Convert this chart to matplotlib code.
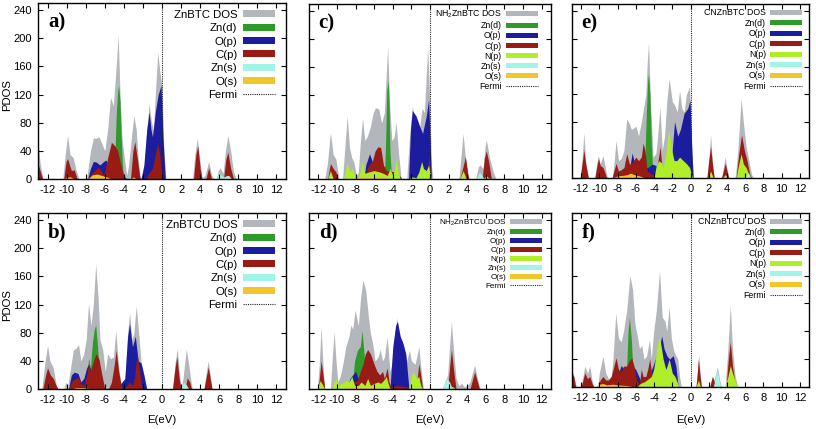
import matplotlib
matplotlib.use("Agg")
import matplotlib.pyplot as plt
from matplotlib.patches import Patch
from matplotlib.lines import Line2D

plt.rcParams['font.family'] = ['Liberation Sans', 'DejaVu Sans']
plt.rcParams['mathtext.default'] = 'regular'
plt.rcParams['axes.unicode_minus'] = False

# ---- data: (energy eV, PDOS) pairs ----
# a) ZnBTC
a_dos = [(-13.0, 55), (-12.8, 25), (-12.5, 0),
         (-10.4, 0), (-10.15, 35), (-9.9, 62), (-9.65, 35), (-9.3, 30), (-9.0, 12), (-8.7, 0),
         (-7.9, 0), (-7.5, 40), (-7.2, 58), (-6.9, 58), (-6.6, 60), (-6.3, 50), (-6.0, 40), (-5.7, 70),
         (-5.4, 116), (-5.1, 104), (-4.75, 170), (-4.6, 205), (-4.4, 120), (-4.2, 60), (-4.0, 35),
         (-3.7, 5), (-3.5, 20), (-3.2, 60), (-2.95, 90), (-2.7, 70), (-2.5, 30), (-2.3, 5), (-2.1, 0),
         (-1.9, 10), (-1.6, 70), (-1.35, 107), (-1.1, 80), (-0.9, 70), (-0.7, 120), (-0.45, 180),
         (-0.2, 150), (0.0, 130), (0.2, 40), (0.4, 0),
         (3.2, 0), (3.45, 35), (3.7, 58), (3.95, 30), (4.2, 2), (4.5, 5), (4.9, 25), (5.2, 5), (5.5, 0),
         (5.7, 0), (5.9, 12), (6.1, 16), (6.4, 8), (6.65, 40), (6.9, 62), (7.2, 40), (7.5, 10), (7.8, 0)]
a_znd = [(-5.2, 0), (-4.95, 30), (-4.8, 90), (-4.65, 125), (-4.55, 133), (-4.4, 110), (-4.25, 50),
         (-4.1, 10), (-3.95, 0)]
a_op = [(-7.8, 0), (-7.5, 15), (-7.2, 25), (-6.9, 24), (-6.5, 20), (-6.2, 24), (-5.9, 27), (-5.6, 20),
        (-5.0, 10), (-4.3, 8), (-4.0, 5), (-3.7, 0),
        (-2.2, 0), (-1.9, 20), (-1.6, 70), (-1.35, 95), (-1.15, 70), (-1.0, 60), (-0.7, 95), (-0.4, 120),
        (-0.1, 133), (0.1, 60), (0.35, 0)]
a_cp = [(-13.0, 22), (-12.7, 8), (-12.5, 0),
        (-10.3, 0), (-10.05, 25), (-9.9, 29), (-9.7, 20), (-9.5, 12), (-9.2, 13), (-8.9, 0),
        (-7.8, 0), (-7.2, 10), (-6.7, 17), (-6.4, 12), (-6.1, 5), (-5.7, 30), (-5.3, 52), (-5.0, 48),
        (-4.7, 42), (-4.3, 20), (-3.9, 0),
        (-3.3, 0), (-3.05, 40), (-2.85, 53), (-2.6, 30), (-2.3, 0),
        (-1.7, 0), (-1.4, 8), (-1.0, 15), (-0.7, 35), (-0.45, 52), (-0.2, 30), (0.0, 0),
        (3.3, 0), (3.55, 35), (3.75, 47), (4.0, 15), (4.2, 0),
        (4.6, 0), (4.9, 16), (5.2, 0),
        (6.45, 0), (6.7, 28), (6.9, 38), (7.2, 15), (7.5, 0)]
a_zns = [(5.7, 0), (5.95, 10), (6.2, 5), (6.5, 3), (6.8, 5), (7.0, 5), (7.3, 0)]
a_os = [(-10.3, 0), (-10.0, 3), (-9.6, 3), (-9.2, 0), (-7.8, 0), (-7.3, 6), (-6.8, 7), (-6.3, 5),
        (-5.8, 3), (-5.3, 0), (-3.3, 0), (-3.0, 3), (-2.7, 0)]

# b) ZnBTCU
b_dos = [(-12.6, 0), (-12.3, 35), (-12.0, 62), (-11.75, 40), (-11.4, 30), (-11.2, 15), (-11.0, 0),
         (-10.3, 0), (-10.1, 10), (-9.9, 3), (-9.7, 20), (-9.3, 55), (-9.0, 58), (-8.75, 63), (-8.5, 40),
         (-8.2, 50), (-7.95, 70), (-7.7, 122), (-7.45, 90), (-7.2, 120), (-6.95, 178), (-6.7, 130),
         (-6.5, 70), (-6.2, 55), (-5.95, 25), (-5.7, 50), (-5.4, 43), (-5.1, 45), (-4.85, 83), (-4.6, 40),
         (-4.3, 5), (-4.1, 0), (-3.9, 10), (-3.6, 80), (-3.4, 108), (-3.15, 70), (-2.95, 80), (-2.7, 118),
         (-2.45, 80), (-2.2, 40), (-1.9, 20), (-1.6, 0),
         (1.1, 0), (1.35, 35), (1.6, 57), (1.85, 20), (2.0, 0), (2.2, 15), (2.55, 57), (2.8, 35), (3.1, 5),
         (3.2, 0), (4.4, 0), (4.65, 25), (4.85, 40), (5.05, 20), (5.25, 0)]
b_znd = [(-8.0, 0), (-7.7, 44), (-7.5, 30), (-7.3, 65), (-7.1, 85), (-6.95, 91), (-6.75, 60),
         (-6.5, 0)]
b_op = [(-9.8, 0), (-9.5, 20), (-9.2, 24), (-8.8, 22), (-8.5, 10), (-8.2, 15), (-7.9, 30), (-7.7, 35),
        (-7.4, 25), (-7.0, 20), (-6.5, 10), (-6.0, 0),
        (-5.7, 0), (-5.2, 5), (-4.6, 5), (-4.3, 8), (-3.9, 15), (-3.6, 75), (-3.4, 93), (-3.1, 60),
        (-2.8, 75), (-2.5, 40), (-2.2, 37), (-1.9, 20), (-1.6, 0)]
b_cp = [(-12.5, 0), (-12.2, 20), (-12.0, 30), (-11.7, 20), (-11.4, 15), (-11.1, 5), (-10.9, 0),
        (-9.8, 0), (-9.4, 12), (-8.8, 17), (-8.5, 8), (-8.2, 5), (-7.9, 20), (-7.7, 35), (-7.5, 25),
        (-7.2, 40), (-6.9, 50), (-6.6, 42), (-6.3, 20), (-6.0, 0),
        (-5.6, 0), (-5.3, 10), (-5.0, 35), (-4.8, 55), (-4.55, 25), (-4.2, 0),
        (-4.0, 0), (-3.7, 5), (-3.4, 10), (-3.1, 5), (-2.9, 15), (-2.6, 50), (-2.3, 20), (-2.1, 0),
        (1.1, 0), (1.35, 28), (1.55, 46), (1.8, 15), (2.0, 0),
        (2.4, 0), (2.65, 16), (2.9, 10), (3.1, 0),
        (4.4, 0), (4.65, 18), (4.85, 31), (5.05, 15), (5.25, 0)]
b_zns = [(1.9, 0), (2.3, 10), (2.6, 5), (2.8, 0)]
b_os = [(-9.5, 0), (-9.0, 2), (-8.0, 2), (-7.5, 0)]

# c) NH2ZnBTC
c_dos = [(-11.3, 0), (-11.0, 25), (-10.7, 67), (-10.4, 35), (-10.1, 28), (-9.8, 0),
         (-9.4, 0), (-9.15, 45), (-8.9, 90), (-8.65, 45), (-8.4, 30), (-8.2, 25), (-7.9, 5), (-7.7, 10),
         (-7.5, 50), (-7.25, 87), (-7.0, 55), (-6.7, 62), (-6.4, 75), (-6.1, 95), (-5.85, 102), (-5.5, 100),
         (-5.2, 80), (-4.9, 95), (-4.7, 150), (-4.55, 189), (-4.35, 110), (-4.1, 55), (-3.85, 60),
         (-3.65, 82), (-3.4, 40), (-3.1, 0),
         (-2.5, 0), (-2.2, 60), (-1.9, 104), (-1.6, 80), (-1.3, 60), (-1.05, 80), (-0.85, 101), (-0.6, 95),
         (-0.25, 189), (0.0, 100), (0.15, 20), (0.3, 0),
         (3.1, 0), (3.35, 35), (3.55, 65), (3.8, 30), (4.1, 0),
         (4.9, 0), (5.2, 18), (5.4, 20), (5.7, 15), (5.9, 45), (6.05, 56), (6.4, 30), (6.8, 10), (7.1, 0)]
c_znd = [(-5.1, 0), (-4.85, 20), (-4.75, 60), (-4.65, 125), (-4.5, 141), (-4.4, 110), (-4.3, 40),
         (-4.15, 5), (-4.0, 0)]
c_op = [(-7.1, 0), (-6.9, 20), (-6.5, 36), (-6.2, 25), (-5.8, 15), (-5.0, 10), (-4.3, 12), (-4.0, 10),
        (-3.6, 8), (-3.3, 5), (-3.0, 0),
        (-2.3, 0), (-2.1, 70), (-1.9, 98), (-1.5, 90), (-1.1, 75), (-0.8, 65), (-0.4, 90), (-0.15, 114),
        (0.05, 40), (0.15, 0)]
c_cp = [(-11.0, 0), (-10.7, 22), (-10.4, 15), (-10.1, 10), (-9.9, 0),
        (-7.2, 0), (-6.9, 8), (-6.6, 20), (-6.2, 25), (-5.9, 40), (-5.6, 46), (-5.3, 45), (-5.0, 20),
        (-4.7, 12), (-4.4, 10), (-4.0, 10), (-3.7, 12), (-3.4, 5), (-3.1, 0),
        (-0.5, 0), (-0.3, 15), (-0.1, 30), (0.1, 0),
        (3.2, 0), (3.5, 15), (3.8, 32), (4.1, 5), (4.2, 0),
        (5.6, 0), (5.85, 30), (6.05, 40), (6.3, 25), (6.6, 0)]
c_np = [(-11.0, 0), (-10.7, 12), (-10.4, 0),
        (-9.3, 0), (-8.9, 23), (-8.6, 10), (-8.3, 15), (-8.0, 0), (-7.6, 5), (-7.3, 25), (-7.0, 8),
        (-6.6, 10), (-6.0, 12), (-5.4, 10), (-5.0, 8), (-4.6, 5), (-4.3, 15), (-4.0, 5), (-3.8, 15),
        (-3.65, 29), (-3.4, 10), (-3.2, 0),
        (-2.3, 0), (-2.0, 3), (-1.5, 2), (-1.2, 10), (-0.9, 25), (-0.7, 15), (-0.4, 12), (-0.15, 20),
        (0.05, 5), (0.15, 0),
        (3.2, 0), (3.55, 12), (3.9, 0),
        (5.7, 0), (6.05, 5), (6.4, 0)]
c_zns = [(5.0, 0), (5.3, 10), (5.6, 5), (5.8, 0)]
c_os = [(-8.5, 0), (-7.5, 3), (-6.0, 4), (-5.0, 3), (-4.0, 0)]

# d) NH2ZnBTCU
d_dos = [(-12.1, 0), (-11.9, 35), (-11.7, 88), (-11.5, 35), (-11.3, 0),
         (-10.7, 0), (-10.5, 45), (-10.3, 81), (-10.1, 40), (-9.9, 10), (-9.6, 20), (-9.3, 40),
         (-9.05, 60), (-8.7, 75), (-8.5, 91), (-8.3, 85), (-8.05, 112), (-7.7, 90), (-7.45, 130),
         (-7.2, 155), (-6.9, 140), (-6.6, 100), (-6.4, 80), (-6.1, 60), (-5.9, 40), (-5.6, 45),
         (-5.35, 56), (-5.1, 40), (-4.9, 45), (-4.6, 74), (-4.3, 25), (-4.1, 35), (-3.8, 75), (-3.55, 101),
         (-3.2, 60), (-2.8, 55), (-2.5, 40), (-2.2, 55), (-2.0, 40), (-1.6, 35), (-1.2, 60), (-0.9, 20),
         (-0.7, 0),
         (1.3, 0), (1.6, 10), (1.9, 20), (2.1, 60), (2.3, 96), (2.5, 60), (2.8, 15), (3.1, 5), (3.4, 8),
         (3.7, 3), (4.0, 5), (4.3, 10), (4.6, 25), (4.8, 34), (5.1, 15), (5.4, 0)]
d_znd = [(-8.4, 0), (-8.1, 40), (-7.8, 55), (-7.5, 60), (-7.3, 83), (-7.05, 45), (-6.8, 0)]
d_op = [(-10.5, 0), (-10.3, 8), (-10.1, 0), (-8.9, 0), (-8.6, 15), (-8.3, 20), (-8.0, 25), (-7.6, 10),
        (-7.2, 0),
        (-4.3, 0), (-4.0, 60), (-3.7, 90), (-3.5, 96), (-3.2, 75), (-2.9, 65), (-2.6, 50), (-2.4, 20),
        (-2.25, 0)]
d_cp = [(-12.0, 0), (-11.85, 20), (-11.7, 40), (-11.5, 20), (-11.3, 0),
        (-10.5, 0), (-10.3, 5), (-10.0, 0),
        (-8.5, 0), (-8.2, 10), (-7.8, 12), (-7.5, 25), (-7.2, 35), (-6.95, 50), (-6.7, 56), (-6.4, 50),
        (-6.0, 35), (-5.7, 25), (-5.4, 20), (-5.1, 25), (-4.9, 15), (-4.6, 30), (-4.4, 10), (-4.2, 3),
        (-3.5, 5), (-2.5, 3), (-2.2, 0),
        (-1.5, 0), (-1.2, 36), (-1.0, 20), (-0.8, 0),
        (1.9, 0), (2.1, 30), (2.3, 56), (2.55, 25), (2.8, 0),
        (4.3, 0), (4.6, 15), (4.8, 24), (5.1, 10), (5.3, 0)]
d_np = [(-12.1, 0), (-11.8, 12), (-11.5, 5), (-11.3, 0),
        (-10.6, 0), (-10.3, 10), (-10.1, 15), (-9.8, 5), (-9.5, 8), (-9.0, 12), (-8.7, 10), (-8.4, 18),
        (-8.1, 5), (-7.7, 5), (-7.4, 10), (-7.0, 5), (-6.7, 15), (-6.4, 5), (-6.0, 8), (-5.6, 10),
        (-5.3, 8), (-5.0, 12), (-4.7, 18), (-4.5, 8), (-4.3, 0),
        (-2.3, 0), (-2.1, 12), (-1.85, 25), (-1.6, 20), (-1.4, 15), (-1.2, 18), (-1.0, 5), (-0.8, 0),
        (1.5, 0), (1.8, 3), (2.3, 4), (2.8, 0)]
d_zns = [(1.3, 0), (1.6, 10), (1.8, 15), (2.1, 10), (2.4, 0)]
d_os = [(-9.5, 0), (-8.5, 3), (-7.0, 3), (-6.0, 2), (-5.0, 0)]

# e) CNZnBTC
e_dos = [(-12.1, 0), (-11.9, 25), (-11.7, 65), (-11.5, 25), (-11.2, 0),
         (-10.5, 0), (-10.3, 20), (-10.1, 32), (-9.9, 20), (-9.6, 32), (-9.3, 12), (-9.1, 0),
         (-8.6, 0), (-8.4, 20), (-8.17, 54), (-7.9, 25), (-7.6, 28), (-7.3, 40), (-7.0, 85), (-6.7, 78),
         (-6.5, 70), (-6.2, 72), (-6.0, 75), (-5.7, 60), (-5.4, 80), (-5.15, 100), (-4.9, 120),
         (-4.75, 165), (-4.6, 195), (-4.4, 110), (-4.1, 30), (-3.8, 35), (-3.6, 60), (-3.35, 102),
         (-3.1, 40), (-2.85, 60), (-2.6, 110), (-2.35, 143), (-2.0, 110), (-1.75, 105), (-1.45, 95),
         (-1.2, 126), (-0.95, 100), (-0.7, 95), (-0.45, 120), (-0.1, 131), (0.1, 50), (0.3, 0),
         (1.8, 0), (2.0, 25), (2.2, 62), (2.4, 25), (2.6, 0),
         (3.4, 0), (3.6, 15), (3.8, 30), (4.0, 15), (4.2, 0),
         (4.9, 0), (5.2, 40), (5.55, 114), (5.8, 80), (6.1, 45), (6.4, 25), (6.7, 5), (6.9, 0)]
e_znd = [(-5.2, 0), (-5.0, 30), (-4.85, 90), (-4.7, 140), (-4.6, 150), (-4.45, 120), (-4.3, 50),
         (-4.15, 10), (-4.0, 0)]
e_op = [(-7.2, 0), (-6.9, 10), (-6.6, 20), (-6.4, 36), (-6.2, 25), (-6.0, 20), (-5.6, 15), (-4.7, 15),
        (-4.2, 20), (-3.8, 18), (-3.5, 5), (-3.3, 0),
        (-2.3, 0), (-2.0, 40), (-1.75, 81), (-1.4, 60), (-1.1, 70), (-0.7, 93), (-0.3, 100),
        (-0.05, 112), (0.15, 40), (0.3, 0)]
e_cp = [(-12.1, 0), (-11.9, 20), (-11.7, 40), (-11.5, 20), (-11.2, 0),
        (-10.5, 0), (-10.3, 15), (-10.1, 28), (-9.9, 18), (-9.6, 15), (-9.4, 8), (-9.2, 0),
        (-8.6, 0), (-8.4, 10), (-8.17, 21), (-7.9, 10), (-7.6, 12), (-7.3, 15), (-7.0, 35), (-6.7, 20),
        (-6.4, 22), (-6.0, 30), (-5.7, 25), (-5.4, 30), (-5.2, 50), (-5.0, 40), (-4.75, 10), (-4.2, 5),
        (-3.8, 8), (-3.5, 30), (-3.33, 45), (-3.1, 8), (-2.9, 3), (-2.5, 0),
        (-1.5, 0), (-1.2, 20), (-0.9, 15), (-0.6, 0),
        (1.8, 0), (2.0, 25), (2.2, 45), (2.45, 15), (2.6, 0),
        (3.4, 0), (3.6, 10), (3.8, 21), (4.0, 10), (4.2, 0),
        (5.0, 0), (5.3, 35), (5.6, 62), (5.9, 40), (6.2, 25), (6.5, 5), (6.7, 0)]
e_np = [(-4.0, 0), (-3.8, 15), (-3.5, 25), (-3.2, 22), (-3.0, 15), (-2.7, 35), (-2.5, 60), (-2.35, 69),
        (-2.15, 45), (-1.8, 25), (-1.5, 25), (-1.2, 30), (-0.8, 25), (-0.4, 20), (-0.1, 15), (0.1, 5),
        (0.25, 0),
        (1.9, 0), (2.2, 10), (2.5, 0), (3.5, 0), (3.8, 5), (4.1, 0),
        (5.0, 0), (5.3, 20), (5.55, 35), (5.8, 20), (6.1, 15), (6.4, 5), (6.6, 0)]
e_zns = [(5.9, 0), (6.2, 5), (6.35, 8), (6.6, 0)]
e_os = [(-8.6, 0), (-8.0, 3), (-7.3, 4), (-6.9, 5), (-6.6, 7), (-6.2, 5), (-5.6, 3), (-5.0, 0)]

# f) CNZnBTCU
f_dos = [(-13.0, 25), (-12.8, 15), (-12.5, 0),
         (-12.0, 0), (-11.8, 15), (-11.6, 30), (-11.3, 20), (-11.05, 30), (-10.8, 10), (-10.6, 0),
         (-10.2, 0), (-10.0, 20), (-9.6, 44), (-9.3, 20), (-9.0, 12), (-8.7, 15), (-8.5, 40), (-8.2, 106),
         (-7.9, 70), (-7.6, 65), (-7.35, 80), (-7.0, 110), (-6.65, 160), (-6.35, 140), (-6.1, 90),
         (-5.85, 75), (-5.6, 55), (-5.35, 60), (-5.1, 40), (-4.8, 45), (-4.5, 68), (-4.3, 40), (-4.05, 79),
         (-3.75, 110), (-3.4, 167), (-3.1, 100), (-2.8, 95), (-2.6, 80), (-2.35, 115), (-2.1, 70),
         (-1.8, 50), (-1.4, 40), (-1.2, 15), (-1.0, 0),
         (0.6, 0), (0.9, 46), (1.2, 0),
         (2.1, 0), (2.4, 15), (2.6, 10), (2.95, 29), (3.2, 10), (3.4, 0),
         (3.8, 0), (4.1, 55), (4.37, 118), (4.6, 55), (4.9, 15), (5.2, 0)]
f_znd = [(-7.2, 0), (-7.0, 30), (-6.85, 80), (-6.7, 100), (-6.5, 70), (-6.3, 20), (-6.1, 0)]
f_op = [(-8.3, 0), (-7.9, 20), (-7.6, 31), (-7.3, 25), (-6.9, 20), (-6.3, 30), (-6.0, 25), (-5.5, 10),
        (-4.8, 15), (-4.4, 20), (-4.0, 35), (-3.6, 50), (-3.3, 65), (-3.15, 73), (-2.9, 55), (-2.6, 45),
        (-2.3, 40), (-1.9, 45), (-1.6, 30), (-1.35, 0)]
f_cp = [(-13.0, 20), (-12.8, 15), (-12.6, 0),
        (-12.0, 0), (-11.8, 10), (-11.6, 20), (-11.3, 12), (-11.05, 15), (-10.8, 5), (-10.6, 0),
        (-10.2, 0), (-9.9, 10), (-9.6, 15), (-9.3, 10), (-9.0, 10), (-8.7, 15), (-8.4, 30), (-8.17, 42),
        (-7.9, 25), (-7.6, 22), (-7.35, 30), (-7.0, 30), (-6.7, 38), (-6.45, 42), (-6.2, 30), (-5.9, 10),
        (-5.6, 5), (-5.4, 25), (-5.2, 15), (-4.9, 15), (-4.7, 25), (-4.48, 40), (-4.2, 15), (-3.9, 5),
        (-3.5, 5), (-3.0, 5), (-2.7, 10), (-2.44, 40), (-2.2, 25), (-1.9, 10), (-1.6, 0),
        (0.6, 0), (0.75, 20), (0.86, 40), (1.05, 15), (1.2, 0),
        (2.1, 0), (2.4, 15), (2.6, 8), (2.8, 0),
        (3.9, 0), (4.15, 40), (4.37, 65), (4.6, 30), (4.9, 5), (5.1, 0)]
f_np = [(-5.9, 0), (-5.5, 5), (-5.0, 8), (-4.6, 12), (-4.3, 15), (-4.05, 25), (-3.8, 45), (-3.5, 70),
        (-3.3, 65), (-3.0, 40), (-2.7, 25), (-2.33, 40), (-2.0, 20), (-1.7, 15), (-1.4, 5), (-1.3, 0),
        (0.6, 0), (0.86, 10), (1.1, 0),
        (2.5, 0), (2.94, 10), (3.3, 0),
        (3.8, 0), (4.1, 15), (4.37, 31), (4.6, 20), (5.0, 5), (5.3, 0)]
f_zns = [(2.5, 0), (2.75, 15), (2.94, 25), (3.15, 10), (3.3, 0)]
f_os = [(-10.5, 0), (-10.0, 4), (-9.6, 5), (-9.2, 3), (-8.5, 4), (-8.0, 3), (-7.0, 2), (-6.0, 0)]

x_ticks = list(range(-12, 13, 2))
y_ticks = [0, 40, 80, 120, 160, 200, 240]

COL = {'DOS': '#b3b6ba', 'Zn(d)': '#2f9a2a', 'O(p)': '#1c1c9e', 'C(p)': '#981b16',
       'N(p)': '#b0ee2a', 'Zn(s)': '#a2f4e6', 'O(s)': '#f0c62a'}

W, H = 816, 429
fig = plt.figure(figsize=(W / 100, H / 100), dpi=100)
fig.patch.set_facecolor('white')

# letter, dos label, series, dos, pixel box (l, t, r, b), legend size, spacing, anchor, y labels, x label
panels = [
    ('a)', 'ZnBTC DOS', [('Zn(d)', a_znd), ('O(p)', a_op), ('C(p)', a_cp), ('Zn(s)', a_zns), ('O(s)', a_os)],
     a_dos, (38, 3, 286, 179), 8.2, 0.3, (0.956, 0.962), True, False),
    ('b)', 'ZnBTCU DOS', [('Zn(d)', b_znd), ('O(p)', b_op), ('C(p)', b_cp), ('Zn(s)', b_zns), ('O(s)', b_os)],
     b_dos, (38, 213, 286, 389), 8.2, 0.3, (0.956, 0.962), True, True),
    ('c)', r'NH$_2$ZnBTC DOS', [('Zn(d)', c_znd), ('O(p)', c_op), ('C(p)', c_cp), ('N(p)', c_np),
                                ('Zn(s)', c_zns), ('O(s)', c_os)],
     c_dos, (309, 4, 551, 179), 6.3, 0.12, (0.946, 0.972), False, False),
    ('d)', r'NH$_2$ZnBTCU DOS', [('Zn(d)', d_znd), ('O(p)', d_op), ('C(p)', d_cp), ('N(p)', d_np),
                                 ('Zn(s)', d_zns), ('O(s)', d_os)],
     d_dos, (309, 213, 551, 389), 5.8, 0.2, (0.963, 0.975), False, True),
    ('e)', 'CNZnBTC DOS', [('Zn(d)', e_znd), ('O(p)', e_op), ('C(p)', e_cp), ('N(p)', e_np),
                           ('Zn(s)', e_zns), ('O(s)', e_os)],
     e_dos, (572, 4, 809, 178), 6.3, 0.17, (0.972, 0.975), False, False),
    ('f)', 'CNZnBTCU DOS', [('Zn(d)', f_znd), ('O(p)', f_op), ('C(p)', f_cp), ('N(p)', f_np),
                            ('Zn(s)', f_zns), ('O(s)', f_os)],
     f_dos, (572, 213, 809, 387), 6.3, 0.17, (0.972, 0.975), False, True),
]


def fill(ax, pts, color):
    e = [p[0] for p in pts]
    v = [p[1] for p in pts]
    ax.fill_between(e, 0, v, color=color, lw=0)


for letter, dos_label, series, dos, (l, t, r, b), lfs, lsp, anchor, ylab, xlab in panels:
    ax = fig.add_axes([l / W, 1 - b / H, (r - l) / W, (b - t) / H])
    fill(ax, dos, COL['DOS'])
    for name, pts in series:
        fill(ax, pts, COL[name])
    ax.axvline(0, color='#222222', ls=(0, (1, 1)), lw=0.8, zorder=5)

    ax.set_xlim(-13, 13)
    ax.set_ylim(0, 250)
    ax.set_xticks(x_ticks)
    ax.set_yticks(y_ticks)
    ax.tick_params(direction='in', top=True, right=True, length=3.5, width=0.8,
                   labelsize=8, pad=4.5)
    if not ylab:
        ax.set_yticklabels([])
    for s in ax.spines.values():
        s.set_linewidth(1.0)

    handles = [Patch(facecolor=COL['DOS'], edgecolor='none')]
    labels = [dos_label]
    for name, _ in series:
        handles.append(Patch(facecolor=COL[name], edgecolor='none'))
        labels.append(name)
    handles.append(Line2D([], [], color='#222222', ls=(0, (1, 1)), lw=0.8))
    labels.append('Fermi')
    ax.legend(handles, labels, loc='upper right', bbox_to_anchor=anchor, frameon=False,
              markerfirst=False, fontsize=lfs, handlelength=32 / (lfs * 1.39), handleheight=0.55,
              handletextpad=0.5, labelspacing=lsp, borderpad=0, borderaxespad=0)

    ax.text(0.04, 0.89, letter, transform=ax.transAxes, fontsize=15, fontweight='bold',
            family='Liberation Serif', ha='left', va='center')

    cx = (l + r) / 2 / W
    if xlab:
        fig.text(cx, 1 - 420 / H, 'E(eV)', fontsize=8.2, ha='center', va='center')
    if ylab:
        fig.text(7 / W, 1 - (t + 92) / H, 'PDOS', fontsize=8.2, rotation=90,
                 ha='center', va='center')

fig.savefig('out.png', dpi=100, facecolor='white')
